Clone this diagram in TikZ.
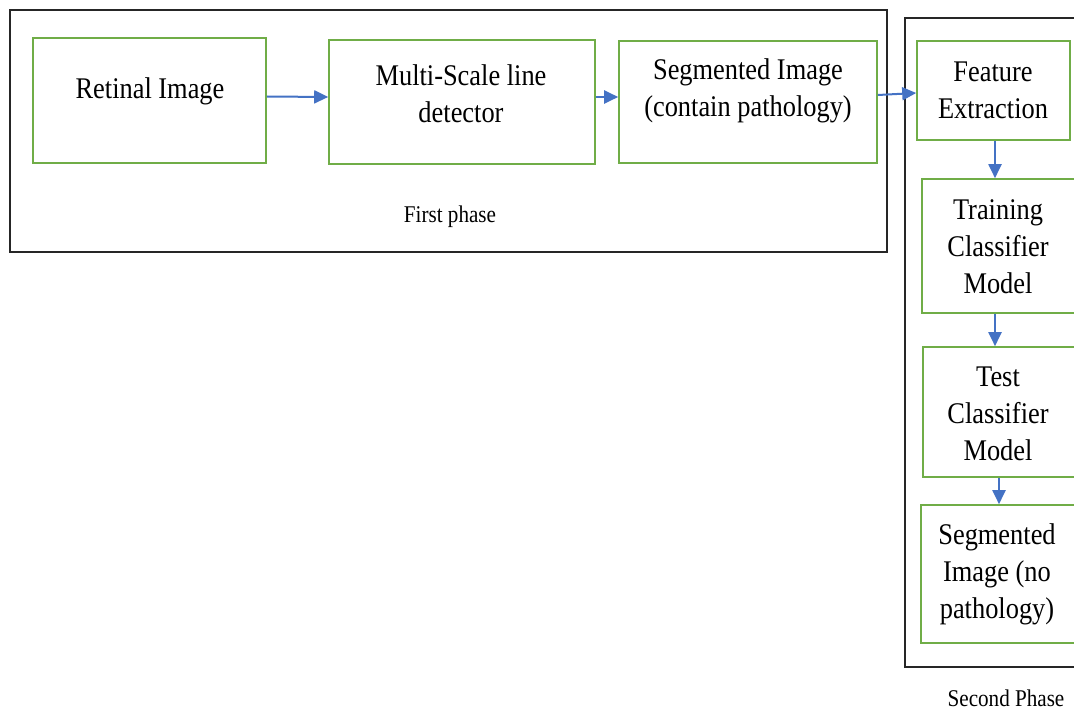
\documentclass[tikz,border=0pt]{standalone}
\usepackage{fontspec}
\setmainfont{Liberation Serif}[FakeStretch=0.88]
\usetikzlibrary{arrows.meta}
\definecolor{boxgreen}{RGB}{112,173,71}
\definecolor{arrblue}{RGB}{68,114,196}
\begin{document}
\begin{tikzpicture}[x=1pt,y=-1pt,
  phase/.style={draw=black!85,line width=1.8pt,inner sep=0pt},
  stepbox/.style={draw=boxgreen,line width=1.6pt,inner sep=0pt},
  txt/.style={font=\fontsize{30}{37}\selectfont,align=center,inner sep=0pt},
  small/.style={font=\fontsize{24}{28}\selectfont,inner sep=0pt},
  arr/.style={draw=arrblue,line width=2pt,-{Triangle[length=14pt,width=13pt]}}]
\useasboundingbox (0,0) rectangle (1074,711);
\clip (0,0) rectangle (1074,711);
% phase frames
\node[phase,minimum width=877pt,minimum height=242pt] (p1) at (448.5,131) {};
\node[phase,minimum width=185pt,minimum height=649pt] (p2) at (997.5,342.5) {};
% boxes
\node[stepbox,minimum width=233pt,minimum height=125pt] (ri) at (149.5,100.5) {};
\node[stepbox,minimum width=266pt,minimum height=124pt] (msl) at (462,102) {};
\node[stepbox,minimum width=258pt,minimum height=122pt] (seg1) at (748,102) {};
\node[stepbox,minimum width=153pt,minimum height=99pt] (feat) at (993.5,90.5) {};
\node[stepbox,minimum width=153pt,minimum height=134pt] (train) at (998.5,246) {};
\node[stepbox,minimum width=152pt,minimum height=130pt] (test) at (999,412) {};
\node[stepbox,minimum width=155pt,minimum height=138pt] (seg2) at (998.5,574) {};
% texts
\node[txt] (tri) at (150,91) {Retinal Image};
\node[txt] (tmsl) at (461,94) {Multi-Scale line\\detector};
\node[txt] (tseg1) at (748,91) {Segmented Image\\(contain pathology)};
\node[txt] (tfeat) at (993,90) {Feature\\Extraction};
\node[txt] (ttrain) at (998,247) {Training\\Classifier\\Model};
\node[txt] (ttest) at (998,414) {Test\\Classifier\\Model};
\node[txt] (tseg2) at (997,574) {Segmented\\Image (no\\pathology)};
\node[small] (l1) at (450,217) {First phase};
\node[small] (l2) at (1006,698) {Second Phase};
% arrows
\draw[arr] ([yshift=4pt]ri.east) -- ([yshift=5pt]msl.west);
\draw[arr] ([yshift=5pt]msl.east) -- ([yshift=5pt]seg1.west);
\draw[arr] ([yshift=7pt]seg1.east) -- ([yshift=-2.5pt]feat.west);
\draw[arr] ([xshift=1.5pt]feat.south) -- ([xshift=1.5pt]feat.south |- train.north);
\draw[arr] ([xshift=-3.5pt]train.south) -- ([xshift=-3.5pt]train.south |- test.north);
\draw[arr] (test.south) -- (test.south |- seg2.north);
\end{tikzpicture}
\end{document}
